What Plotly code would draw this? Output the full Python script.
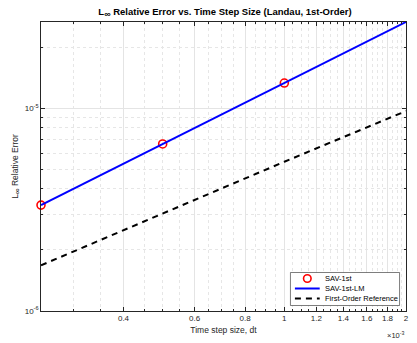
import plotly.graph_objects as go
import math

# data
dt = [2.5e-4, 5e-4, 1e-3, 2e-3]
err_sav1 = [3.33e-6, 6.67e-6, 1.333e-5, 2.667e-5]
err_sav1_lm = [3.33e-6, 6.67e-6, 1.333e-5, 2.667e-5]
ref_first = [1.68e-6, 3.03e-6, 5.45e-6, 9.7e-6]

series_names = ["SAV-1st", "SAV-1st-LM", "First-Order Reference"]
x_tick_vals = [0.4e-3, 0.6e-3, 0.8e-3, 1.0e-3, 1.2e-3, 1.4e-3, 1.6e-3, 1.8e-3, 2.0e-3]
x_tick_text = ["0.4", "0.6", "0.8", "1", "1.2", "1.4", "1.6", "1.8", "2"]
x_minor_vals = [round(0.25 + 0.05 * i, 2) * 1e-3 for i in range(36)]
y_tick_vals = [1e-6, 1e-5]
y_tick_text = ["10<sup>-6</sup>", "10<sup>-5</sup>"]
y_minor_vals = [k * 1e-6 for k in range(2, 10)] + [2e-5]

FONT = "Liberation Sans, Arial, sans-serif"
AX = "#262626"
W, H = 417, 343
ML, MR, MT, MB = 41, 8, 22, 32
PW, PH = W - ML - MR, H - MT - MB


def px(x):
    return (x - ML) / PW


def py(y):
    return (H - MB - y) / PH


fig = go.Figure()
fig.add_trace(go.Scatter(
    x=dt, y=err_sav1, mode="markers", name=series_names[0],
    marker=dict(symbol="circle-open", size=8, color="#FF0000", line=dict(width=1.6, color="#FF0000")),
    cliponaxis=False, showlegend=False))
fig.add_trace(go.Scatter(
    x=dt, y=err_sav1_lm, mode="lines", name=series_names[1],
    line=dict(color="#0000FF", width=2), cliponaxis=False, showlegend=False))
fig.add_trace(go.Scatter(
    x=dt, y=ref_first, mode="lines", name=series_names[2],
    line=dict(color="#000000", width=2, dash="6px,5px"), cliponaxis=False, showlegend=False))

fig.update_layout(
    width=W, height=H,
    margin=dict(l=ML, r=MR, t=MT, b=MB),
    paper_bgcolor="white", plot_bgcolor="white",
    font=dict(family=FONT, size=8, color=AX),
    title=dict(text="<b>L<sub><span style='font-size:9px'>∞</span></sub> Relative Error vs. Time Step Size (Landau, 1st-Order)</b>",
               x=225 / W, xanchor="center", y=1 - 12 / H, yanchor="middle",
               font=dict(family=FONT, size=9.5, color="#000000")),
)

fig.update_xaxes(
    type="log", range=[math.log10(2.5e-4), math.log10(2e-3)],
    tickvals=x_tick_vals, ticktext=x_tick_text,
    ticks="inside", ticklen=4, tickcolor=AX, tickwidth=0.6,
    showline=True, linecolor=AX, linewidth=0.6, mirror="ticks",
    showgrid=True, gridcolor="#E4E4E4", gridwidth=0.6,
    minor=dict(tickvals=x_minor_vals, ticks="inside", ticklen=2, tickcolor=AX, tickwidth=0.5,
               showgrid=True, gridcolor="#E6E6E6", gridwidth=0.6, griddash="dot"),
    zeroline=False,
    tickfont=dict(family=FONT, size=8, color=AX),
    title=dict(text="Time step size, dt", font=dict(family=FONT, size=8.5, color=AX), standoff=4),
)
fig.update_yaxes(
    type="log", range=[-6, math.log10(2.667e-5)],
    tickvals=y_tick_vals, ticktext=y_tick_text,
    ticks="inside", ticklen=4, tickcolor=AX, tickwidth=0.6,
    showline=True, linecolor=AX, linewidth=0.6, mirror="ticks",
    showgrid=True, gridcolor="#E4E4E4", gridwidth=0.6,
    minor=dict(tickvals=y_minor_vals, ticks="inside", ticklen=2, tickcolor=AX, tickwidth=0.5,
               showgrid=True, gridcolor="#E6E6E6", gridwidth=0.6, griddash="dot"),
    zeroline=False,
    tickfont=dict(family=FONT, size=8, color=AX),
    title=dict(text="L<sub><span style='font-size:8px'>∞</span></sub> Relative Error",
               font=dict(family=FONT, size=8.5, color=AX), standoff=4),
)

# x10^-3 exponent label
fig.add_annotation(xref="paper", yref="paper", x=px(409), y=py(335), xanchor="right", yanchor="middle",
                   text="×10<sup>-3</sup>", showarrow=False,
                   font=dict(family=FONT, size=7.5, color=AX))

# manual legend (compact, MATLAB-like)
lx0, lx1, ly0, ly1 = 292.5, 402.5, 272.5, 305.5
fig.add_shape(type="rect", xref="paper", yref="paper",
              x0=px(lx0), x1=px(lx1), y0=py(ly1), y1=py(ly0),
              line=dict(color=AX, width=0.6), fillcolor="white", layer="above")
rows = [278.5, 288.5, 298.5]
# marker sample
cx, r = 309.5, 3.8
fig.add_shape(type="circle", xref="paper", yref="paper",
              x0=px(cx - r), x1=px(cx + r), y0=py(rows[0] + r), y1=py(rows[0] - r),
              line=dict(color="#FF0000", width=1.6), layer="above")
fig.add_shape(type="line", xref="paper", yref="paper",
              x0=px(297), x1=px(322), y0=py(rows[1]), y1=py(rows[1]),
              line=dict(color="#0000FF", width=2), layer="above")
fig.add_shape(type="line", xref="paper", yref="paper",
              x0=px(297), x1=px(322), y0=py(rows[2]), y1=py(rows[2]),
              line=dict(color="#000000", width=2, dash="6px,5px"), layer="above")
for name, ry in zip(series_names, rows):
    fig.add_annotation(xref="paper", yref="paper", x=px(325), y=py(ry), xanchor="left", yanchor="middle",
                       text=name, showarrow=False, font=dict(family=FONT, size=7.5, color="#000000"))

fig.write_html("out.html")
